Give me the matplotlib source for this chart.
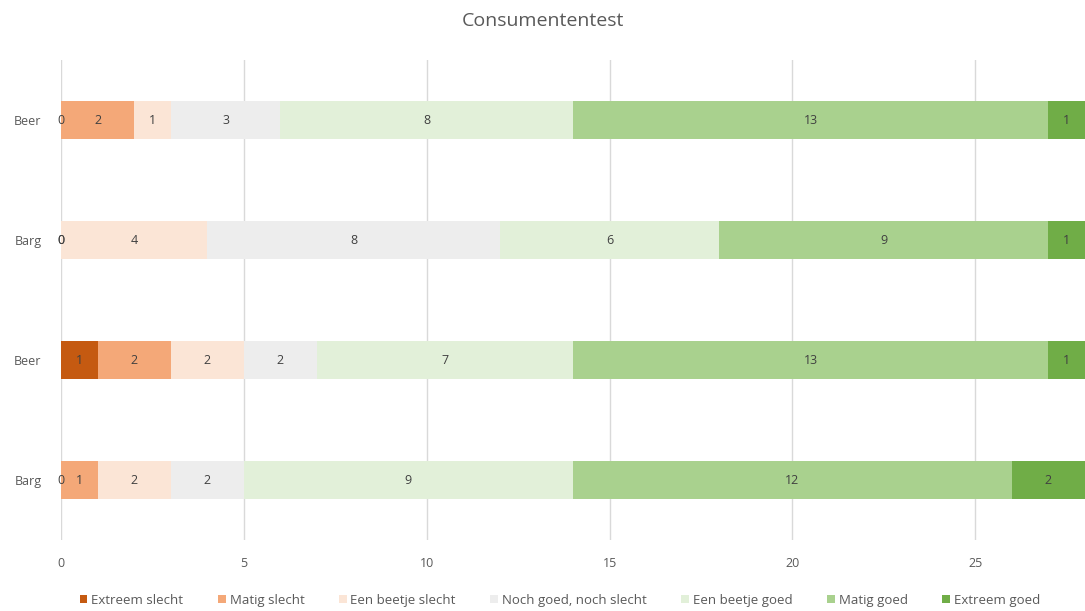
import numpy as np
import matplotlib.pyplot as plt

plt.rcParams['font.family'] = ['Open Sans', 'DejaVu Sans']

# rijen van boven naar beneden
rijen = ['Beer', 'Barg', 'Beer', 'Barg']
categorieen = ['Extreem slecht', 'Matig slecht', 'Een beetje slecht',
               'Noch goed, noch slecht', 'Een beetje goed', 'Matig goed', 'Extreem goed']
extreem_slecht = [0, 0, 1, 0]
matig_slecht = [2, 0, 2, 1]
beetje_slecht = [1, 4, 2, 2]
noch = [3, 8, 2, 2]
beetje_goed = [8, 6, 7, 9]
matig_goed = [13, 9, 13, 12]
extreem_goed = [1, 1, 1, 2]

reeksen = [extreem_slecht, matig_slecht, beetje_slecht, noch,
           beetje_goed, matig_goed, extreem_goed]
kleuren = ['#C55A11', '#F4A878', '#FBE5D6', '#EDEDED', '#E2F0D9', '#A9D18E', '#70AD47']

fig = plt.figure(figsize=(10.85, 6.11), dpi=100)
ax = fig.add_axes([0.0562, 0.1162, 0.9438, 0.7856])

y = np.arange(len(rijen))[::-1]
links = np.zeros(len(rijen))
for naam, waarden, kleur in zip(categorieen, reeksen, kleuren):
    waarden = np.array(waarden, dtype=float)
    ax.barh(y, waarden, left=links, height=0.31, color=kleur, label=naam, zorder=2)
    for xl, yc, w in zip(links, y, waarden):
        ax.text(xl + w / 2, yc, '%d' % w, ha='center', va='center',
                fontsize=9, color='#404040', zorder=3)
    links += waarden

ax.set_xlim(0, 28)
ax.set_ylim(-0.5, 3.5)
ax.set_xticks([0, 5, 10, 15, 20, 25])
ax.set_yticks(y)
ax.set_yticklabels(rijen)
ax.tick_params(axis='both', length=0, labelsize=9, colors='#595959')
ax.tick_params(axis='x', pad=12)
ax.tick_params(axis='y', pad=14)
ax.grid(axis='x', color='#D9D9D9', linewidth=1, zorder=0)
for s in ax.spines.values():
    s.set_visible(False)

fig.text(0.5, 0.965, 'Consumententest', ha='center', va='center',
         fontsize=14, color='#595959')

fig.legend(loc='center', bbox_to_anchor=(0.516, 0.018), ncol=7, frameon=False,
           fontsize=9.5, labelcolor='#595959', handlelength=0.6, handleheight=0.6,
           handletextpad=0.3, columnspacing=2.6)

plt.savefig('out.png', dpi=100)
